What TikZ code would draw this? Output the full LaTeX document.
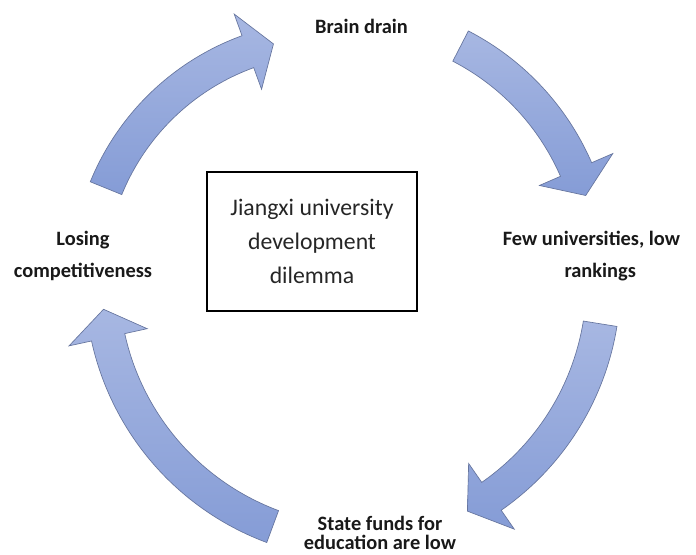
\documentclass[tikz,border=0pt]{standalone}
\usepackage{fontspec}
\setmainfont{Carlito}
\begin{document}
\begin{tikzpicture}[x=0.75pt,y=-0.75pt,
  cyclearrow/.style={top color=arrowtop,bottom color=arrowbottom,draw=arrowedge,line width=0.5pt,line join=miter},
  label/.style={align=center,text=black!90,font=\bfseries\fontsize{15.3}{24}\selectfont,inner sep=0pt},
  centerbox/.style={draw=black,line width=1.2pt,minimum width=157.5pt,minimum height=104.25pt,align=center,
    text=black!85,font=\fontsize{17.8}{25.5}\selectfont,inner sep=0pt}]
\definecolor{arrowtop}{HTML}{A7B7E2}
\definecolor{arrowbottom}{HTML}{859CD6}
\definecolor{arrowedge}{HTML}{66759E}
% curved block arrow around centre (#1,#2), radius #3, from angle #4 to head base #5, tip at #6
\newcommand{\curvedarrow}[6]{%
  \begin{scope}[shift={(#1,#2)}]
    \path[cyclearrow]
      plot[domain=0:1,samples=40,smooth] ({#4+\x*(#5-#4)}:{#3+17})
      -- (#5:{#3+40}) -- (#6:#3) -- (#5:{#3-40})
      -- plot[domain=0:1,samples=40,smooth] ({#5-\x*(#5-#4)}:{#3-17})
      -- cycle;
  \end{scope}}
\useasboundingbox (0,0) rectangle (696,554);
\fill[white] (0,0) rectangle (696,554);

% the four arrows of the cycle
\curvedarrow{331}{280}{243}{202.2}{250}{256.3}
\curvedarrow{345}{270}{252}{297.3}{336.5}{342.8}
\curvedarrow{342.5}{282}{261}{9.2}{55.2}{61.4}
\curvedarrow{364}{281}{262}{110.4}{167.6}{173.8}

% centre box
\node[centerbox] (dilemma) at (312,241.5) {Jiangxi university\\development\\dilemma};

% stages of the cycle
\node[label] (brain) at (361.5,26) {Brain drain};
\node[label] (few) at (591.5,256) {Few universities, low\\\hspace*{0.86em}rankings};
\node[label,font=\bfseries\fontsize{15.3}{14}\selectfont] (state) at (380,533) {State funds for\\education are low};
\node[label] (losing) at (83,256) {Losing\\competitiveness};
\end{tikzpicture}
\end{document}
